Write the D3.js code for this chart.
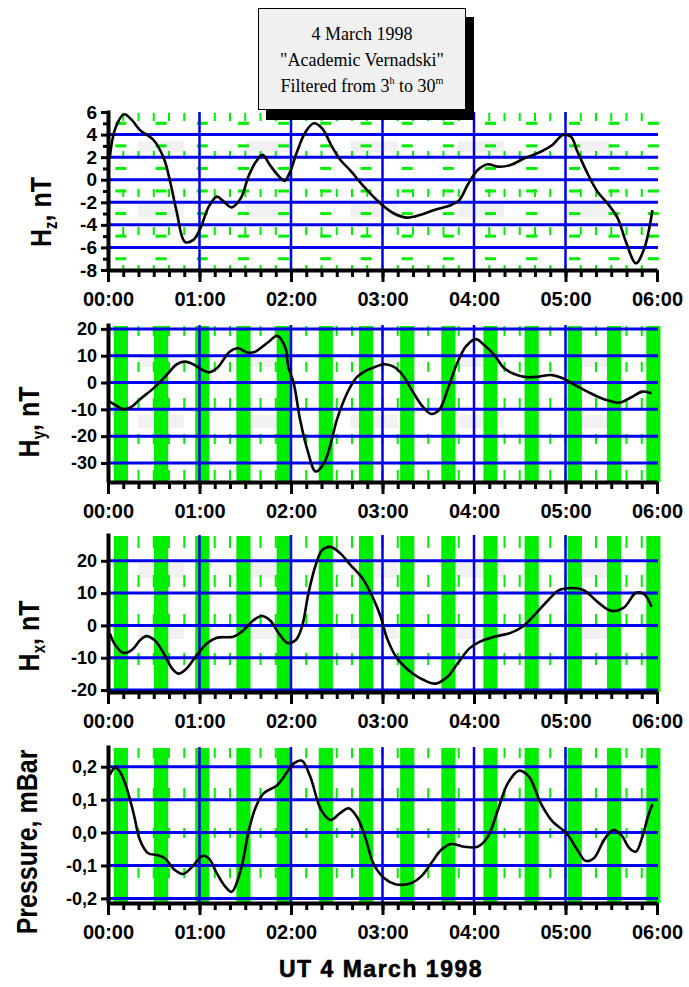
<!DOCTYPE html>
<html>
<head>
<meta charset="utf-8">
<script src="https://cdn.jsdelivr.net/npm/d3@7/dist/d3.min.js"></script>
<style>
  body { margin: 0; background: #fff; }
  .tick text { font-family: "Liberation Sans", Arial, sans-serif; font-weight: bold; fill: #000; }
</style>
</head>
<body>
<div id="chart"></div>
<script>
// hour labels on the time axis
var hourLabels = ["00:00", "01:00", "02:00", "03:00", "04:00", "05:00", "06:00"];

// centres (hours) of the green shaded stripes
var bandCenters = [0.14, 0.58, 1.03, 1.48, 1.92, 2.38, 2.82, 3.27, 3.72, 4.18, 4.63, 5.10, 5.53, 5.96];

// faint grey blocks (hours) left in the scan
var ghostTimes = [[0.33, 0.83], [1.50, 1.99], [2.65, 3.17], [3.82, 4.33], [4.98, 5.50]];

// Hz, nT
var hzTime = [0.02, 0.08, 0.175, 0.26, 0.35, 0.5, 0.61, 0.68, 0.75, 0.84, 0.93, 1.01, 1.1, 1.19, 1.26, 1.35, 1.45, 1.54, 1.63, 1.69, 1.77, 1.87, 1.93, 1.99, 2.06, 2.16, 2.25, 2.34, 2.45, 2.54, 2.65, 2.78, 2.9, 3.02, 3.12, 3.27, 3.42, 3.56, 3.75, 3.84, 3.93, 4.04, 4.15, 4.26, 4.4, 4.55, 4.73, 4.86, 4.97, 5.06, 5.13, 5.24, 5.35, 5.46, 5.57, 5.66, 5.77, 5.86, 5.95];
var hzValue = [2.0, 4.55, 5.8, 5.3, 4.4, 3.5, 1.9, -0.2, -2.8, -5.5, -5.35, -4.3, -2.4, -1.5, -1.9, -2.45, -1.65, 0.4, 1.75, 2.2, 1.3, 0.27, -0.1, 0.7, 2.35, 4.25, 5.0, 4.55, 2.9, 1.75, 0.8, -0.46, -1.5, -2.4, -2.97, -3.36, -3.1, -2.7, -2.24, -1.8, -0.47, 0.86, 1.37, 1.16, 1.3, 1.9, 2.48, 3.1, 3.96, 3.8, 2.5, 0.57, -1.06, -2.1, -3.4, -5.5, -7.4, -6.1, -2.7];
var hzTicks = [6, 4, 2, 0, -2, -4, -6, -8];
var hzMinor = [5, 3, 1, -1, -3, -5, -7];
var hzGrid = [4, 2, 0, -2, -4, -6];
var hzGhost = [[2.45, 3.4], [-3.35, -2.1]];

// Hy, nT
var hyTime = [0.02, 0.08, 0.17, 0.26, 0.35, 0.5, 0.64, 0.75, 0.84, 0.93, 1.03, 1.1, 1.19, 1.33, 1.42, 1.52, 1.61, 1.7, 1.76, 1.85, 1.94, 1.97, 2.03, 2.1, 2.18, 2.27, 2.36, 2.43, 2.5, 2.58, 2.65, 2.72, 2.8, 2.91, 3.02, 3.12, 3.22, 3.33, 3.44, 3.53, 3.62, 3.71, 3.8, 3.91, 4.02, 4.11, 4.22, 4.33, 4.44, 4.57, 4.71, 4.84, 4.97, 5.1, 5.24, 5.42, 5.59, 5.72, 5.84, 5.94];
var hyValue = [-7.1, -8.4, -10.0, -9.0, -6.2, -2.1, 2.8, 6.8, 7.8, 6.8, 4.7, 3.8, 5.3, 11.5, 12.8, 11.2, 11.5, 13.7, 15.3, 17.4, 12.8, 5.9, -0.3, -14, -25.2, -33.2, -30.1, -23.3, -14, -6.5, -1.5, 2.0, 4.1, 5.7, 6.8, 5.9, 2.8, -3.4, -9, -11.7, -10.2, -2.8, 5.9, 13.4, 16.2, 14, 10.3, 5.3, 3.2, 2.0, 2.2, 2.8, 1.6, -0.9, -3.4, -6.2, -7.5, -5.5, -3.4, -4.0];
var hyTicks = [20, 10, 0, -10, -20, -30];
var hyGhost = [[5.8, 9.9], [-16.9, -12.1]];

// Hx, nT
var hxTime = [0.02, 0.08, 0.17, 0.26, 0.35, 0.42, 0.51, 0.61, 0.7, 0.77, 0.86, 0.97, 1.08, 1.19, 1.37, 1.46, 1.59, 1.68, 1.77, 1.88, 1.96, 2.05, 2.12, 2.19, 2.27, 2.34, 2.43, 2.54, 2.65, 2.78, 2.89, 2.98, 3.05, 3.16, 3.33, 3.45, 3.58, 3.71, 3.82, 3.95, 4.06, 4.22, 4.4, 4.53, 4.66, 4.81, 4.93, 5.06, 5.2, 5.35, 5.5, 5.64, 5.77, 5.86, 5.94];
var hxValue = [-2.5, -6.1, -8.5, -7.6, -4.6, -3.3, -4.6, -8.7, -13.3, -14.9, -13.3, -9.2, -5.6, -3.8, -3.5, -2.0, 1.6, 2.9, 1.6, -3.0, -5.4, -4.6, -0.4, 9.9, 18.7, 23.3, 24.3, 22.3, 18.7, 14.6, 8.9, 2.7, -4.0, -10.2, -14.9, -16.9, -18, -15.9, -11.8, -7.1, -5.1, -3.5, -2.3, -0.4, 3.2, 7.8, 10.9, 11.6, 10.9, 7.3, 4.5, 5.6, 10.1, 9.7, 5.8];
var hxTicks = [20, 10, 0, -10, -20];
var hxGhost = [[14.7, 19.3], [-4.2, -0.5]];

// Pressure, mBar
var prTime = [0.02, 0.08, 0.13, 0.2, 0.28, 0.35, 0.44, 0.53, 0.62, 0.73, 0.82, 0.92, 1.03, 1.1, 1.19, 1.27, 1.35, 1.45, 1.54, 1.61, 1.7, 1.85, 1.96, 2.03, 2.12, 2.21, 2.33, 2.43, 2.54, 2.63, 2.72, 2.81, 2.9, 3.02, 3.14, 3.31, 3.42, 3.53, 3.64, 3.75, 3.89, 4.04, 4.15, 4.26, 4.37, 4.49, 4.6, 4.73, 4.86, 5.01, 5.13, 5.22, 5.31, 5.42, 5.52, 5.61, 5.7, 5.77, 5.84, 5.9, 5.95];
var prValue = [0.175, 0.198, 0.185, 0.139, 0.058, -0.023, -0.063, -0.068, -0.078, -0.114, -0.126, -0.104, -0.071, -0.078, -0.124, -0.16, -0.18, -0.114, 0.008, 0.074, 0.119, 0.144, 0.185, 0.21, 0.218, 0.17, 0.068, 0.038, 0.06, 0.074, 0.048, -0.013, -0.094, -0.139, -0.157, -0.154, -0.134, -0.094, -0.053, -0.035, -0.043, -0.043, -0.013, 0.068, 0.15, 0.188, 0.17, 0.089, 0.033, -0.002, -0.053, -0.086, -0.078, -0.023, 0.008, -0.008, -0.048, -0.058, -0.013, 0.048, 0.087];
var prTicks = [0.2, 0.1, 0, -0.1, -0.2];

var titleLines = ["4 March 1998", "\"Academic Vernadski\""];

var width = 689, height = 987;
var plotLeft = 108, plotRight = 657;
var green = "#00ee00", blue = "#0000ee";

var svg = d3.select("#chart").append("svg")
    .attr("width", width)
    .attr("height", height);

var xScale = d3.scaleLinear().domain([0, 6]).range([plotLeft, plotRight]);

function dashFmt(d) {
  return (d < 0 ? "-" : "") + Math.abs(d);
}
function commaFmt(d) {
  return (d < 0 ? "-" : "") + Math.abs(d).toFixed(1).replace(".", ",");
}

var panels = [
  {time: hzTime, value: hzValue, top: 110, bottom: 270, domain: [-8, 6.18], ticks: hzTicks, minor: hzMinor,
   grid: hzGrid, greenRows: hzMinor, bands: false, ghost: hzGhost, fmt: dashFmt, tickFont: 19,
   label: ["H", "z", ", nT"], labelX: 51, labelY: 212, dash: "8,30"},
  {time: hyTime, value: hyValue, top: 323, bottom: 482, domain: [-37.1, 22.2], ticks: hyTicks, minor: [],
   grid: hyTicks, greenRows: [], bands: true, ghost: hyGhost, fmt: dashFmt, tickFont: 18,
   label: ["H", "y", ", nT"], labelX: 39, labelY: 422, dash: "10,26"},
  {time: hxTime, value: hxValue, top: 533, bottom: 692, domain: [-20.6, 28.6], ticks: hxTicks, minor: [],
   grid: hxTicks, greenRows: [], bands: true, ghost: hxGhost, fmt: dashFmt, tickFont: 18,
   label: ["H", "x", ", nT"], labelX: 39, labelY: 636, dash: "12,27"},
  {time: prTime, value: prValue, top: 745, bottom: 903, domain: [-0.214, 0.266], ticks: prTicks, minor: [],
   grid: prTicks, greenRows: [], bands: true, ghost: [], fmt: commaFmt, tickFont: 18,
   label: ["Pressure, mBar"], labelX: 37, labelY: 842, dash: "10,30"}
];

var minorTimes = d3.range(1, 36).map(function (k) { return k / 6; });

panels.forEach(drawPanel);

function drawPanel(p) {
  var yScale = d3.scaleLinear().domain(p.domain).range([p.bottom, p.top]);
  var g = svg.append("g");

  // grey leftovers of the scan
  ghostTimes.forEach(function (t) {
    p.ghost.forEach(function (v) {
      g.append("rect")
        .attr("x", xScale(t[0]))
        .attr("y", yScale(v[1]))
        .attr("width", xScale(t[1]) - xScale(t[0]))
        .attr("height", yScale(v[0]) - yScale(v[1]))
        .attr("fill", "#f1f1f1");
    });
  });

  // thin dashed green verticals every 10 min
  g.selectAll(".minorv")
    .data(minorTimes)
    .enter().append("line")
    .attr("x1", function (d) { return xScale(d); })
    .attr("x2", function (d) { return xScale(d); })
    .attr("y1", p.top + 3)
    .attr("y2", p.bottom)
    .attr("stroke", green)
    .attr("stroke-width", 2)
    .attr("stroke-dasharray", p.dash);

  // green stripes
  if (p.bands) {
    g.selectAll(".band")
      .data(bandCenters)
      .enter().append("rect")
      .attr("x", function (d) { return xScale(d - 0.077); })
      .attr("y", p.top + 3)
      .attr("width", xScale(0.155) - xScale(0))
      .attr("height", p.bottom - p.top - 3)
      .attr("fill", green);
  }

  // green dashed rows (top panel)
  p.greenRows.forEach(function (v) {
    g.selectAll(null)
      .data(bandCenters)
      .enter().append("rect")
      .attr("x", function (d) { return xScale(d - 0.06); })
      .attr("y", yScale(v) - 1.5)
      .attr("width", xScale(0.12) - xScale(0))
      .attr("height", 3)
      .attr("fill", green);
  });

  // blue grid
  g.selectAll(".hgrid")
    .data(p.grid)
    .enter().append("line")
    .attr("x1", plotLeft)
    .attr("x2", plotRight + 1)
    .attr("y1", function (d) { return yScale(d); })
    .attr("y2", function (d) { return yScale(d); })
    .attr("stroke", blue)
    .attr("stroke-width", 3);
  g.selectAll(".vgrid")
    .data([1, 2, 3, 4, 5])
    .enter().append("line")
    .attr("x1", function (d) { return xScale(d); })
    .attr("x2", function (d) { return xScale(d); })
    .attr("y1", p.top + 2)
    .attr("y2", p.bottom)
    .attr("stroke", blue)
    .attr("stroke-width", 2.5);

  // curve
  var pts = p.time.map(function (t, i) { return [t, p.value[i]]; });
  var line = d3.line()
    .x(function (d) { return xScale(d[0]); })
    .y(function (d) { return yScale(d[1]); })
    .curve(d3.curveCatmullRom.alpha(0.5));
  g.append("path")
    .datum(pts)
    .attr("d", line)
    .attr("fill", "none")
    .attr("stroke", "#000")
    .attr("stroke-width", 2.6)
    .attr("stroke-linejoin", "round");

  // axes
  var xAxis = g.append("g")
    .attr("transform", "translate(0," + p.bottom + ")")
    .call(d3.axisBottom(xScale)
      .tickValues([0, 1, 2, 3, 4, 5, 6])
      .tickFormat(function (d) { return hourLabels[d]; })
      .tickSize(12).tickSizeOuter(0).tickPadding(10));
  xAxis.select(".domain").attr("stroke-width", 4);
  xAxis.selectAll(".tick line").attr("stroke-width", 3);
  xAxis.selectAll(".tick text").style("font-size", "20px");

  var xMinor = g.append("g")
    .attr("transform", "translate(0," + p.bottom + ")")
    .call(d3.axisBottom(xScale).tickValues(minorTimes).tickFormat("").tickSize(7).tickSizeOuter(0));
  xMinor.select(".domain").remove();
  xMinor.selectAll(".tick line").attr("stroke-width", 3);

  var yAxis = g.append("g")
    .attr("transform", "translate(" + plotLeft + ",0)")
    .call(d3.axisLeft(yScale).tickValues(p.ticks).tickFormat(p.fmt)
      .tickSize(7).tickSizeOuter(0).tickPadding(4));
  yAxis.select(".domain").attr("stroke-width", 4);
  yAxis.selectAll(".tick line").attr("stroke-width", 3);
  yAxis.selectAll(".tick text").style("font-size", p.tickFont + "px");

  if (p.minor.length) {
    var yMinor = g.append("g")
      .attr("transform", "translate(" + plotLeft + ",0)")
      .call(d3.axisLeft(yScale).tickValues(p.minor).tickFormat("").tickSize(5).tickSizeOuter(0));
    yMinor.select(".domain").remove();
    yMinor.selectAll(".tick line").attr("stroke-width", 3);
  }

  // y label
  var lab = g.append("text")
    .attr("transform", "translate(" + p.labelX + "," + p.labelY + ") rotate(-90) scale(1,1.18)")
    .attr("text-anchor", "middle")
    .style("font-family", "'Liberation Sans', Arial, sans-serif")
    .style("font-weight", "bold")
    .style("font-size", "25px");
  if (p.label.length === 3) {
    lab.append("tspan").text(p.label[0]);
    lab.append("tspan").attr("dy", 5).style("font-size", "15px").text(p.label[1]);
    lab.append("tspan").attr("dy", -5).text(p.label[2]);
  } else {
    lab.text(p.label[0]);
  }
}

// bottom axis title
svg.append("text")
  .attr("x", 381)
  .attr("y", 977)
  .attr("text-anchor", "middle")
  .style("font-family", "'Liberation Sans', Arial, sans-serif")
  .style("font-weight", "bold")
  .style("font-size", "23px")
  .style("letter-spacing", "1.5px")
  .style("stroke", "#000")
  .style("stroke-width", 0.6)
  .text("UT 4 March 1998");

// title box with shadow
var box = svg.append("g");
box.append("rect").attr("x", 266).attr("y", 17).attr("width", 208).attr("height", 103).attr("fill", "#000");
box.append("rect").attr("x", 258.5).attr("y", 8.5).attr("width", 207).attr("height", 101)
  .attr("fill", "#f0f0f0").attr("stroke", "#000").attr("stroke-width", 1);

var tt = box.append("text")
  .attr("text-anchor", "middle")
  .style("font-family", "'Liberation Serif', 'Times New Roman', serif")
  .style("font-size", "18px");
titleLines.forEach(function (s, i) {
  tt.append("tspan").attr("x", 362).attr("y", 40 + i * 26).text(s);
});
var t3 = tt.append("tspan").attr("x", 362).attr("y", 92);
t3.append("tspan").text("Filtered from 3");
t3.append("tspan").attr("dy", -8).style("font-size", "10px").text("h");
t3.append("tspan").attr("dy", 8).text(" to 30");
t3.append("tspan").attr("dy", -8).style("font-size", "10px").text("m");
</script>
</body>
</html>
